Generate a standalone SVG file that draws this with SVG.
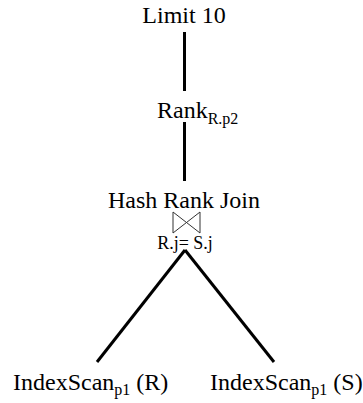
<svg xmlns="http://www.w3.org/2000/svg" width="363" height="403" viewBox="0 0 363 403">
<style>
text { font-family: "Liberation Serif", "Times New Roman", serif; fill: #000; }
.t { font-size: 24px; }
.sub { font-size: 16px; }
.e { stroke: #000; stroke-width: 3; fill: none; }
</style>
<rect width="363" height="403" fill="#fff"/>
<g id="connectors">
<line class="e" x1="184.5" y1="32" x2="184.5" y2="91"/>
<line class="e" x1="184.5" y1="122" x2="184.5" y2="181"/>
<line class="e" x1="185" y1="250" x2="97" y2="362"/>
<line class="e" x1="185" y1="250" x2="274" y2="362"/>
</g>
<g id="limit"><text class="t" x="184" y="23" text-anchor="middle">Limit 10</text></g>
<g id="rank"><text class="t" x="157" y="118">Rank<tspan class="sub" dy="6">R.p2</tspan></text></g>
<g id="join">
<text class="t" x="184" y="208" text-anchor="middle">Hash Rank Join</text>
<path d="M173,212 L200,233 L200,212 L173,233 Z" fill="none" stroke="#333" stroke-width="1"/>
<text x="185" y="249" font-size="18" text-anchor="middle">R.j= S.j</text>
</g>
<g id="scanR"><text class="t" x="13" y="390">IndexScan<tspan class="sub" dy="5">p1</tspan><tspan dy="-5"> (R)</tspan></text></g>
<g id="scanS"><text class="t" x="210" y="390">IndexScan<tspan class="sub" dy="5">p1</tspan><tspan dy="-5"> (S)</tspan></text></g>
</svg>
